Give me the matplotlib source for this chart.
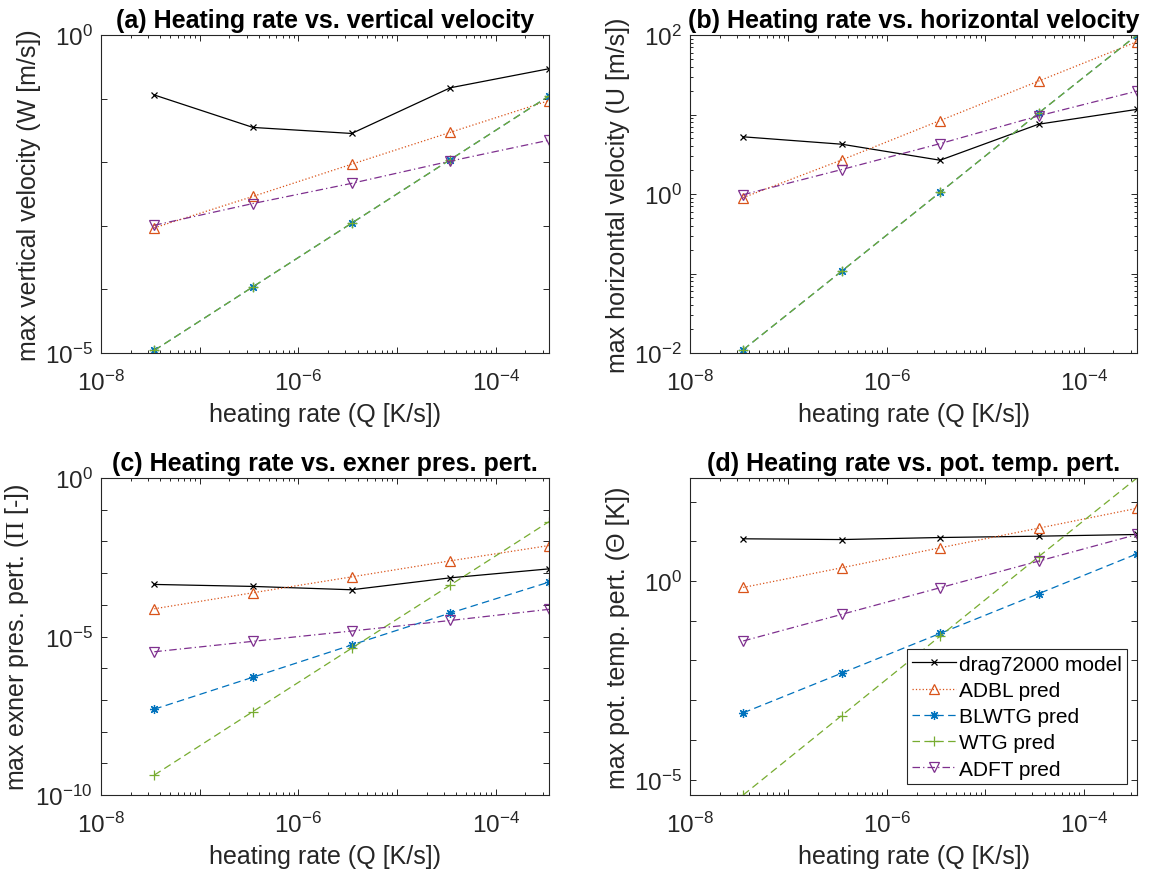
import numpy as np
import matplotlib
matplotlib.use("Agg")
import matplotlib.pyplot as plt
from matplotlib.ticker import FixedLocator, NullFormatter

plt.rcParams['font.family'] = ['Liberation Sans', 'DejaVu Sans']
plt.rcParams['mathtext.fontset'] = 'custom'
plt.rcParams['mathtext.rm'] = 'Liberation Sans'
plt.rcParams['mathtext.it'] = 'Liberation Sans:italic'
plt.rcParams['mathtext.bf'] = 'Liberation Sans:bold'
plt.rcParams['mathtext.sf'] = 'Liberation Serif'

# ---------------- data ----------------
heating_rate = [3.47e-8, 3.47e-7, 3.47e-6, 3.47e-5, 3.47e-4]

series_names = ['drag72000 model', 'ADBL pred', 'BLWTG pred', 'WTG pred', 'ADFT pred']

# (a) max vertical velocity W [m/s]
w_model = [0.114, 0.0352, 0.0283, 0.148, 0.295]
w_adbl = [9.3e-4, 2.9e-3, 9.3e-3, 0.0295, 0.093]
w_blwtg = [1.1e-5, 1.1e-4, 1.1e-3, 1.1e-2, 0.11]
w_wtg = [1.1e-5, 1.1e-4, 1.1e-3, 1.1e-2, 0.11]
w_adft = [1.02e-3, 2.24e-3, 4.65e-3, 0.0104, 0.0222]

# (b) max horizontal velocity U [m/s]
u_model = [5.24, 4.23, 2.66, 7.55, 11.6]
u_adbl = [0.9, 2.68, 8.4, 26.3, 82.4]
u_blwtg = [0.011, 0.107, 1.05, 10.4, 100.0]
u_wtg = [0.011, 0.107, 1.05, 10.4, 100.0]
u_adft = [0.98, 2.03, 4.3, 9.6, 19.7]

# (c) max exner pressure perturbation Pi [-]
p_model = [4.39e-4, 3.8e-4, 2.98e-4, 7.1e-4, 1.36e-3]
p_adbl = [7.5e-5, 2.4e-4, 7.6e-4, 2.44e-3, 7.4e-3]
p_blwtg = [5.1e-8, 5.2e-7, 5.4e-6, 5.5e-5, 5.2e-4]
p_wtg = [4.26e-10, 4.3e-8, 4.26e-6, 4.2e-4, 0.042]
p_adft = [3.3e-6, 7.05e-6, 1.49e-5, 3.2e-5, 7.2e-5]

# (d) max potential temperature perturbation Theta [K]
t_model = [11.6, 11.1, 12.5, 13.5, 14.9]
t_adbl = [0.69, 2.16, 6.9, 21.5, 68.0]
t_blwtg = [4.8e-4, 4.8e-3, 0.048, 0.48, 4.86]
t_wtg = [4.1e-6, 4.1e-4, 0.041, 4.1, 394.0]
t_adft = [0.031, 0.145, 0.68, 3.18, 14.9]

titles = ['(a) Heating rate vs. vertical velocity',
          '(b) Heating rate vs. horizontal velocity',
          '(c) Heating rate vs. exner pres. pert.',
          '(d) Heating rate vs. pot. temp. pert.']
ylabels = ['max vertical velocity (W [m/s])',
           'max horizontal velocity (U [m/s])',
           r'max exner pres. pert. ($\mathsf{\Pi}$ [-])',
           'max pot. temp. pert. (\u0398 [K])']
xlabel = 'heating rate (Q [K/s])'

# ---------------- styles ----------------
colors = ['black', (0.850, 0.325, 0.098), (0.0, 0.447, 0.741),
          (0.466, 0.674, 0.188), (0.494, 0.184, 0.556)]
styles = [dict(linestyle='-', marker='x', markersize=4.5),
          dict(linestyle=(0, (1, 1.7)), marker='^', markersize=7.5),
          dict(linestyle=(0, (6, 3.5)), marker=(8, 2, 0), markersize=6.5),
          dict(linestyle=(0, (6, 3.5)), marker='+', markersize=6.5),
          dict(linestyle=(0, (6, 2.5, 1, 2.5)), marker='v', markersize=7.5)]

panels = [
    [w_model, w_adbl, w_blwtg, w_wtg, w_adft],
    [u_model, u_adbl, u_blwtg, u_wtg, u_adft],
    [p_model, p_adbl, p_blwtg, p_wtg, p_adft],
    [t_model, t_adbl, t_blwtg, t_wtg, t_adft],
]
ylims = [(1e-5, 1e0), (1e-2, 1e2), (1e-10, 1e0), (min(t_wtg), max(t_wtg))]
ydecades = [range(-5, 1), range(-2, 3), range(-10, 1), range(-5, 3)]
ylabeled = [(-5, 0), (-2, 0, 2), (-10, -5, 0), (-5, 0)]
ysubs = [False, True, False, False]

W, H = 1150, 879
fig = plt.figure(figsize=(W / 100, H / 100), dpi=100)
boxes = [(101, 36, 549, 354), (690, 36, 1137, 354),
         (101, 479, 549, 796), (690, 479, 1137, 796)]
axes_color = (0.15, 0.15, 0.15)

for i, (x0, y0, x1, y1) in enumerate(boxes):
    ax = fig.add_axes([x0 / W, 1 - y1 / H, (x1 - x0) / W, (y1 - y0) / H])
    handles = []
    for j, vals in enumerate(panels[i]):
        h, = ax.plot(heating_rate, vals, color=colors[j], linewidth=0.9,
                     markerfacecolor='none', markeredgecolor=colors[j],
                     markeredgewidth=0.9, label=series_names[j], **styles[j])
        handles.append(h)
    ax.set_xscale('log')
    ax.set_yscale('log')
    ax.set_xlim(1e-8, heating_rate[-1])
    ax.set_ylim(*ylims[i])

    # x ticks
    xdec = [10.0 ** k for k in range(-8, -3)]
    ax.xaxis.set_major_locator(FixedLocator(xdec))
    ax.set_xticklabels([r'$\mathdefault{10^{%d}}$' % k if k in (-8, -6, -4) else ''
                        for k in range(-8, -3)])
    xminor = [m * 10.0 ** k for k in range(-8, -3) for m in range(2, 10)]
    ax.xaxis.set_minor_locator(FixedLocator(xminor))
    ax.xaxis.set_minor_formatter(NullFormatter())

    # y ticks
    ydec = [10.0 ** k for k in ydecades[i]]
    ax.yaxis.set_major_locator(FixedLocator(ydec))
    ax.set_yticklabels([r'$\mathdefault{10^{%d}}$' % k if k in ylabeled[i] else ''
                        for k in ydecades[i]])
    if ysubs[i]:
        yminor = [m * 10.0 ** k for k in ydecades[i] for m in range(2, 10)]
        ax.yaxis.set_minor_locator(FixedLocator(yminor))
    else:
        ax.yaxis.set_minor_locator(FixedLocator([]))
    ax.yaxis.set_minor_formatter(NullFormatter())

    ax.tick_params(which='both', direction='in', top=True, right=True,
                   color=axes_color, labelcolor=axes_color, labelsize=17.5,
                   width=0.7)
    ax.tick_params(which='major', length=4.0)
    ax.tick_params(which='minor', length=2.2)
    ax.tick_params(axis='x', which='major', pad=12)
    ax.tick_params(axis='y', which='major', pad=6)
    for s in ax.spines.values():
        s.set_color(axes_color)
        s.set_linewidth(0.8)

    ax.set_title(titles[i], fontsize=18, fontweight='bold', pad=6)
    ax.set_xlabel(xlabel, fontsize=18, color=axes_color, labelpad=5)
    ax.set_ylabel(ylabels[i], fontsize=18, color=axes_color, labelpad=3)

    if i == 3:
        leg = ax.legend(handles=handles, loc='lower right',
                        bbox_to_anchor=(0.978, 0.035), borderaxespad=0,
                        fontsize=15, frameon=True, fancybox=False,
                        edgecolor=axes_color, framealpha=1,
                        handlelength=2.1, handletextpad=0.15,
                        labelspacing=0.35, borderpad=0.25, numpoints=1)
        leg.get_frame().set_linewidth(0.8)

fig.savefig('out.png', dpi=100)
